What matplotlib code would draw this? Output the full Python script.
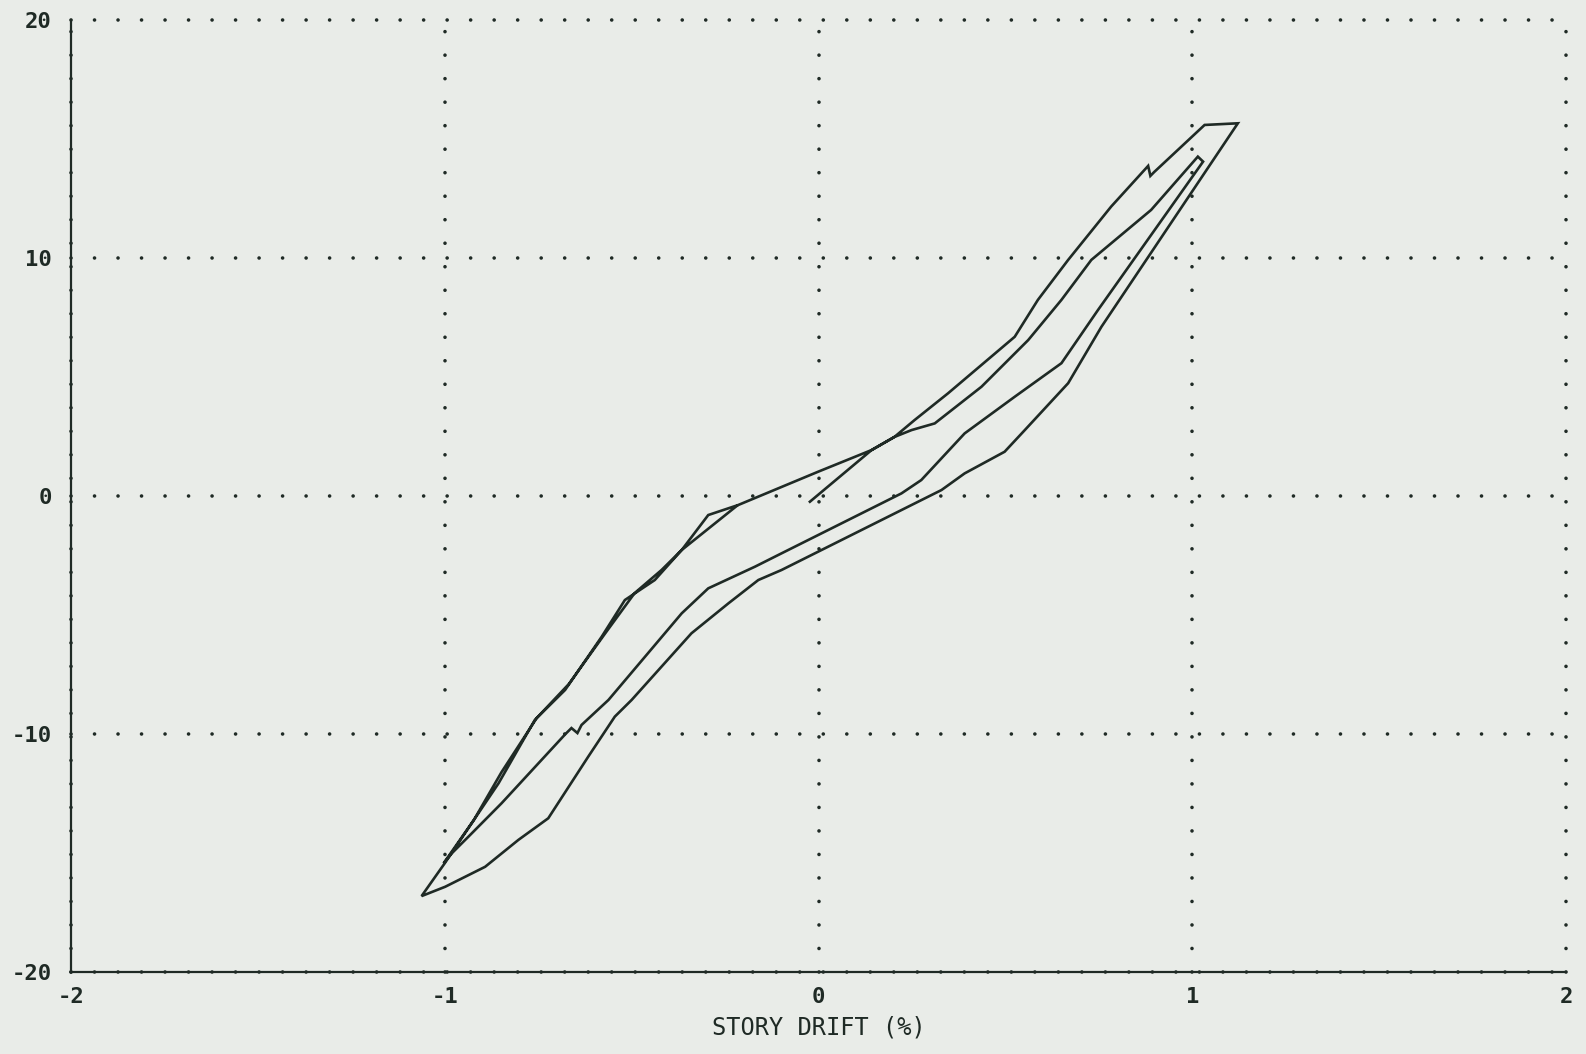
import numpy as np
import matplotlib
matplotlib.use('Agg')
import matplotlib.pyplot as plt

# story drift (%) vs load
drift = [-0.023, 0.142, 0.203, 0.257, 0.347, 0.525, 0.587, 0.668, 0.783,
         0.882, 0.888, 0.898, 1.033, 1.122,
         0.757, 0.668, 0.552, 0.498, 0.391, 0.329, -0.099, -0.161, -0.241,
         -0.340, -0.500, -0.545, -0.616, -0.723, -0.803, -0.892, -0.999, -1.062,
         -1.000, -0.928, -0.856, -0.759, -0.678, -0.580, -0.518, -0.438, -0.366,
         -0.295, -0.215, -0.001, 0.142, 0.203, 0.249, 0.311, 0.436, 0.561,
         0.650, 0.730, 0.890, 1.015, 1.029,
         0.748, 0.650, 0.525, 0.391, 0.275, 0.222, -0.099, -0.170, -0.295,
         -0.366, -0.562, -0.634, -0.645, -0.661, -0.677, -0.848, -0.937, -0.981,
         -1.003,
         -0.922, -0.848, -0.754, -0.668, -0.572, -0.492, -0.420, -0.366, -0.219]
load = [-0.24, 1.93, 2.48, 3.19, 4.32, 6.69, 8.24, 9.92, 12.16,
        13.87, 13.45, 13.61, 15.59, 15.66,
        7.11, 4.74, 2.77, 1.86, 0.95, 0.25, -3.11, -3.53, -4.51,
        -5.77, -8.57, -9.27, -10.95, -13.54, -14.45, -15.58, -16.42, -16.81,
        -15.43, -13.75, -12.07, -9.41, -8.15, -5.91, -4.37, -3.53, -2.27,
        -0.80, -0.38, 1.02, 1.93, 2.48, 2.77, 3.05, 4.59, 6.55,
        8.24, 9.92, 12.02, 14.26, 14.05,
        7.82, 5.58, 4.17, 2.63, 0.67, 0.11, -2.41, -2.97, -3.88,
        -4.93, -8.57, -9.62, -9.96, -9.75, -10.00, -12.91, -14.32, -15.01,
        -15.43,
        -13.61, -11.60, -9.33, -7.90, -5.80, -4.08, -3.11, -2.27, -0.42]

xticks = [-2, -1, 0, 1, 2]
yticks = [-20, -10, 0, 10, 20]

paper = '#e9ece8'
ink = '#1f2a25'
font = 'DejaVu Sans Mono'

fig = plt.figure(figsize=(15.86, 10.54), dpi=100, facecolor=paper)
ax = fig.add_axes([71/1586, 82/1054, 1495/1586, 952/1054])
ax.set_facecolor(paper)

ax.plot(drift, load, color=ink, lw=1.9, solid_joinstyle='miter', zorder=3)

ax.set_xlim(-2, 2)
ax.set_ylim(-20, 20)
ax.set_xticks(xticks)
ax.set_yticks(yticks)
ax.set_xticklabels([str(t) for t in xticks], family=font, fontsize=16,
                   fontweight='bold', color=ink)
ax.set_yticklabels([str(t) for t in yticks], family=font, fontsize=16,
                   fontweight='bold', color=ink)
ax.tick_params(length=0, colors=ink)
ax.tick_params(axis='x', pad=11)
ax.tick_params(axis='y', pad=14)

# plotter-style dotted grid, one dot per ~24 px
ax.grid(True, color=ink, linestyle=(0, (0.01, 6.5)), lw=2.6,
        dash_capstyle='round')
for gl in ax.get_xgridlines() + ax.get_ygridlines():
    gl.set_clip_on(False)

for s in ['top', 'right']:
    ax.spines[s].set_visible(False)
for s in ['left', 'bottom']:
    ax.spines[s].set_color(ink)
    ax.spines[s].set_linewidth(1.6)

ax.set_xlabel('STORY DRIFT (%)', family=font, fontsize=17, color=ink, labelpad=6)

fig.savefig('out.png', dpi=100, facecolor=paper)
